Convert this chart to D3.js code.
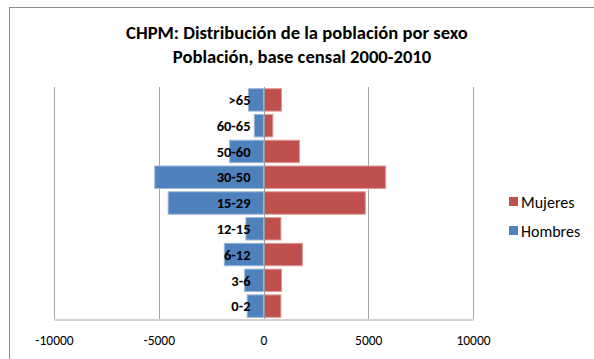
<!DOCTYPE html>
<html>
<head>
<meta charset="utf-8">
<script src="https://cdn.jsdelivr.net/npm/d3@7/dist/d3.min.js"></script>
<style>
  html, body { margin: 0; padding: 0; background: #fff; }
  svg { display: block; }
</style>
</head>
<body>
<svg id="chart" width="594" height="359"></svg>
<script>
// Age groups, top to bottom
const categories = [">65", "60-65", "50-60", "30-50", "15-29", "12-15", "6-12", "3-6", "0-2"];
// Population per age group
const hombres = [720, 440, 1620, 5190, 4550, 840, 1870, 900, 780];
const mujeres = [860, 445, 1715, 5830, 4860, 830, 1860, 860, 830];
// Horizontal axis ticks
const tickValues = [-10000, -5000, 0, 5000, 10000];

const svg = d3.select("#chart");
const font = "Carlito, Calibri, 'Open Sans', 'Liberation Sans', sans-serif";

// Chart frame
svg.append("rect")
  .attr("x", 9.5).attr("y", 7.5)
  .attr("width", 700).attr("height", 400)
  .attr("fill", "#fff").attr("stroke", "#8c8c8c").attr("stroke-width", 1);

// Title
const title = svg.append("text")
  .attr("text-anchor", "middle")
  .attr("font-family", font).attr("font-weight", "bold")
  .attr("font-size", 18.6).attr("fill", "#000");
title.append("tspan").attr("x", 297).attr("y", 39).text("CHPM: Distribución de la población por sexo");
title.append("tspan").attr("x", 302).attr("y", 63).text("Población, base censal 2000-2010");

const plot = { left: 54, right: 473, top: 87, bottom: 319 };

const x = d3.scaleLinear().domain([-10000, 10000]).range([plot.left, plot.right]);
const y = d3.scaleBand().domain(categories).range([plot.top, plot.bottom]).paddingInner(0.13).paddingOuter(0.065);

// Vertical gridlines
svg.append("g")
  .selectAll("line")
  .data(tickValues)
  .join("line")
  .attr("x1", d => Math.round(x(d)) + 0.5).attr("x2", d => Math.round(x(d)) + 0.5)
  .attr("y1", plot.top).attr("y2", plot.bottom)
  .attr("stroke", "#a6a6a6").attr("stroke-width", 1);

// Bottom axis with labels, no tick marks
const xAxis = svg.append("g")
  .attr("transform", `translate(0,${plot.bottom + 0.5})`)
  .call(d3.axisBottom(x).tickValues(tickValues).tickSize(0).tickPadding(16).tickFormat(d => String(d)));
xAxis.select(".domain").attr("stroke", "#a6a6a6");
xAxis.selectAll("text")
  .attr("font-family", font).attr("font-size", 13.5).attr("fill", "#000");

const barStroke = 1;
// Hombres to the left of zero
svg.append("g")
  .selectAll("rect")
  .data(categories)
  .join("rect")
  .attr("x", (d, i) => x(-hombres[i]))
  .attr("y", d => y(d))
  .attr("width", (d, i) => x(0) - x(-hombres[i]))
  .attr("height", y.bandwidth())
  .attr("fill", "#4f81bd")
  .attr("stroke", "#9db6d9").attr("stroke-width", barStroke);

// Mujeres to the right of zero
svg.append("g")
  .selectAll("rect")
  .data(categories)
  .join("rect")
  .attr("x", x(0))
  .attr("y", d => y(d))
  .attr("width", (d, i) => x(mujeres[i]) - x(0))
  .attr("height", y.bandwidth())
  .attr("fill", "#c0504d")
  .attr("stroke", "#dc9b99").attr("stroke-width", barStroke);

// Zero axis line
svg.append("line")
  .attr("x1", Math.round(x(0)) + 0.5).attr("x2", Math.round(x(0)) + 0.5)
  .attr("y1", plot.top).attr("y2", plot.bottom)
  .attr("stroke", "#9a9a9a").attr("stroke-width", 1);

// Category labels, right-aligned just left of zero
svg.append("g")
  .selectAll("text")
  .data(categories)
  .join("text")
  .attr("x", x(0) - 13)
  .attr("y", d => y(d) + y.bandwidth() / 2)
  .attr("dy", "0.36em")
  .attr("text-anchor", "end")
  .attr("font-family", font).attr("font-weight", "bold")
  .attr("font-size", 14.5).attr("fill", "#000")
  .text(d => d);

// Legend
const legendItems = [
  { name: "Mujeres", color: "#c0504d", y: 202 },
  { name: "Hombres", color: "#4f81bd", y: 231 }
];
const legend = svg.append("g");
legendItems.forEach(item => {
  legend.append("rect")
    .attr("x", 509).attr("y", item.y - 5)
    .attr("width", 9).attr("height", 9)
    .attr("fill", item.color);
  legend.append("text")
    .attr("x", 521).attr("y", item.y)
    .attr("dy", "0.35em")
    .attr("font-family", font).attr("font-size", 16).attr("fill", "#000")
    .text(item.name);
});
</script>
</body>
</html>
